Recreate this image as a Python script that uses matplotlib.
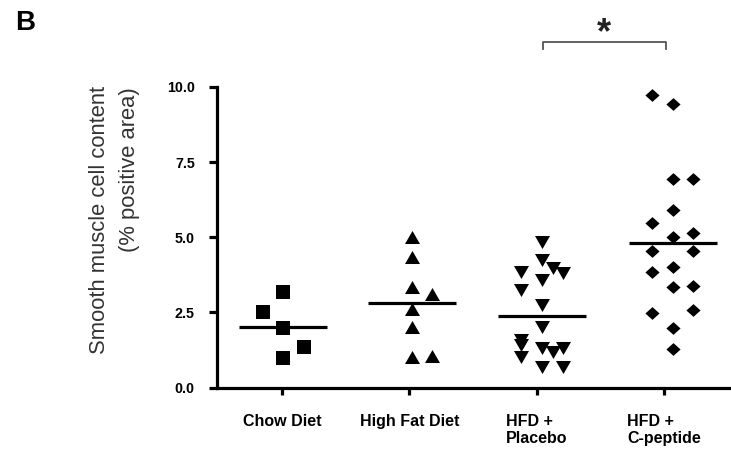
import matplotlib
matplotlib.use("Agg")
import matplotlib.pyplot as plt
import numpy as np

plt.rcParams['font.family'] = ['Liberation Sans', 'DejaVu Sans']

# ---- data ----
categories = ["Chow Diet", "High Fat Diet", "HFD +\nPlacebo", "HFD +\nC-peptide"]

chow = [3.18, 2.52, 1.98, 1.35, 0.98]
high_fat = [5.0, 4.35, 3.35, 3.1, 2.6, 2.0, 1.0, 1.05]
placebo = [4.85, 4.25, 3.98, 3.82, 3.85, 3.58, 3.25, 2.75, 2.0, 1.58, 1.42,
           1.02, 1.32, 1.18, 1.32, 0.68, 0.68]
c_peptide = [9.75, 9.42, 6.95, 6.95, 5.92, 5.48, 5.15, 5.02, 4.55, 4.55, 4.02,
             3.85, 3.35, 3.38, 2.48, 2.58, 1.98, 1.28]
group_means = [2.0, 2.82, 2.38, 4.82]

yticks = [0.0, 2.5, 5.0, 7.5, 10.0]

# scatter columns (layout of the dot plot)
chow_col = [0, -1, 0, 1, 0]
high_fat_col = [0, 0, 0, 1, 0, 0, 0, 1]
placebo_col = [0, 0, 0.55, 1.05, -1, 0, -1, 0, 0, -1, -1, -1, 0, 0.55, 1.05, 0, 1.05]
c_peptide_col = [-1, 0, 0, 1, 0, -1, 1, 0, -1, 1, 0, -1, 0, 1, -1, 1, 0, 0]
center_shift = [0.008, 0.02, 0.04, 0.07]
col_step = 0.161

# ---- figure ----
fig = plt.figure(figsize=(7.31, 4.5), dpi=100)
W, H = 731, 450
ax_left, ax_right = 217, 731
ax_top, ax_bot = 87, 387.5
ax = fig.add_axes([ax_left / W, 1 - ax_bot / H, (ax_right - ax_left) / W, (ax_bot - ax_top) / H])

ppu = 127.3
ax.set_xlim(-(282 - ax_left) / ppu, -(282 - ax_left) / ppu + (ax_right - ax_left) / ppu)
ax.set_ylim(0, 10)

tri_up = [(-1, -0.87), (1, -0.87), (0, 0.87)]
tri_down = [(-1, 0.87), (1, 0.87), (0, -0.87)]
diamond = [(-1, 0), (0, 0.9), (1, 0), (0, -0.9)]

groups = [
    (chow, chow_col, 's', 10.5),
    (high_fat, high_fat_col, tri_up, 10.8),
    (placebo, placebo_col, tri_down, 10.8),
    (c_peptide, c_peptide_col, diamond, 10.2),
]
for i, (vals, cols, mk, ms) in enumerate(groups):
    xs = i + center_shift[i] + np.array(cols) * col_step
    ax.plot(xs, vals, linestyle='none', marker=mk, markersize=ms,
            color='black', markeredgewidth=0, clip_on=False, zorder=3)
    c = i + center_shift[i]
    ax.plot([c - 0.345, c + 0.345], [group_means[i]] * 2, color='black',
            lw=2.3, solid_capstyle='butt', zorder=4)

# spines
for s in ['top', 'right']:
    ax.spines[s].set_visible(False)
for s in ['left', 'bottom']:
    ax.spines[s].set_linewidth(2.3)

ax.set_yticks(yticks)
ax.set_yticklabels([f"{v:.1f}" for v in yticks], fontsize=10.3, fontweight='bold')
ax.set_xticks(range(len(categories)))
ax.set_xticklabels(categories, fontsize=11.5, fontweight='bold', multialignment='left')
ax.tick_params(axis='y', length=6, width=2.3, pad=10)
ax.tick_params(axis='x', length=5, width=2.3, pad=14)

# y label (two lines, top aligned)
fig.text(100 / W, 1 - 86 / H, "Smooth muscle cell content", rotation=90,
         ha='center', va='top', fontsize=15.8, color='#333333')
fig.text(129 / W, 1 - 87 / H, "(% positive area)", rotation=90,
         ha='center', va='top', fontsize=15.8, color='#333333')

# significance bracket
bx0 = 2 + (543 - 537) / ppu
bx1 = 3 + (666 - 664) / ppu
by = (387.5 - 43) / 30.0
bt = (387.5 - 50) / 30.0
ax.plot([bx0, bx0, bx1, bx1], [bt, by, by, bt], color='#555555', lw=1.3, clip_on=False)
ax.text((bx0 + bx1) / 2, (387.5 - 43.5) / 30.0, "*", ha='center', va='baseline',
        fontsize=26, fontweight='bold', color='#222222', clip_on=False)

# panel letter
fig.text(15 / W, 1 - 30 / H, "B", fontsize=20, fontweight='bold', ha='left', va='baseline')

fig.savefig("out.png", dpi=100)
